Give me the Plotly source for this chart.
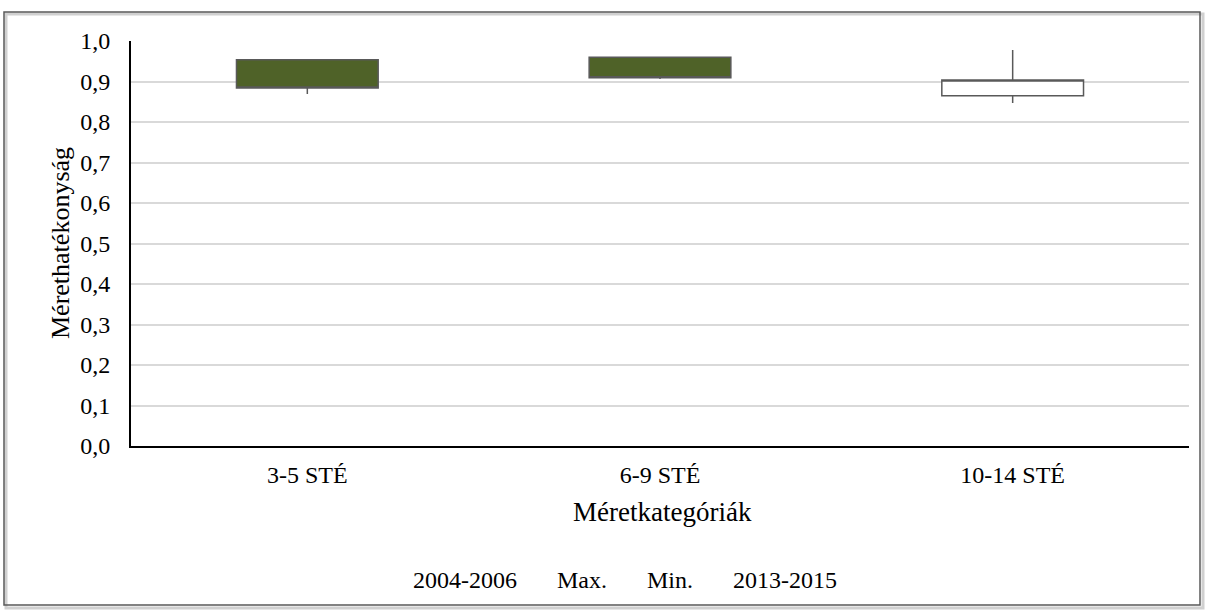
import plotly.graph_objects as go

categories = ["3-5 STÉ", "6-9 STÉ", "10-14 STÉ"]
open_2004_2006 = [0.954, 0.960, 0.865]
high_max = [0.955, 0.961, 0.978]
low_min = [0.869, 0.906, 0.847]
close_2013_2015 = [0.884, 0.909, 0.904]
legend_labels = ["2004-2006", "Max.", "Min.", "2013-2015"]

W, H = 1207, 610
L, R, T, B = 131, 18, 41, 164
pw, ph = W - L - R, H - T - B

def px(x):
    return (x - L) / pw

def py(y):
    return (H - B - y) / ph

FONT = "Liberation Serif"

fig = go.Figure()
fig.add_trace(go.Candlestick(
    x=categories,
    open=open_2004_2006, high=high_max, low=low_min, close=close_2013_2015,
    increasing=dict(fillcolor="#FFFFFF", line=dict(color="#595959", width=1.5)),
    decreasing=dict(fillcolor="#4F6228", line=dict(color="#595959", width=1.5)),
    whiskerwidth=0,
    showlegend=False,
    hoverinfo="skip",
))

fig.update_layout(
    width=W, height=H,
    margin=dict(l=L, r=R, t=T, b=B),
    paper_bgcolor="white", plot_bgcolor="white",
    separators=", ",
    boxgap=0.426,
    font=dict(family=FONT, size=24, color="#000000"),
    showlegend=False,
)
fig.update_xaxes(
    type="category",
    rangeslider_visible=False,
    showline=True, linecolor="#000000", linewidth=2,
    showgrid=False, ticks="",
    ticklabelstandoff=6,
    tickfont=dict(family=FONT, size=24),
)
fig.update_yaxes(
    range=[0, 1], dtick=0.1, tickformat=".1f",
    showline=True, linecolor="#000000", linewidth=2,
    showgrid=True, gridcolor="#D9D9D9", gridwidth=1.5,
    zeroline=False, ticks="",
    ticklabelstandoff=14,
    tickfont=dict(family=FONT, size=24),
)

# Axis titles
fig.add_annotation(x=px(662), y=py(512), xref="paper", yref="paper",
                   text="Méretkategóriák", showarrow=False,
                   xanchor="center", yanchor="middle",
                   font=dict(family=FONT, size=27, color="#000000"))
fig.add_annotation(x=px(60), y=py(243), xref="paper", yref="paper",
                   text="Mérethatékonyság", showarrow=False, textangle=-90,
                   xanchor="center", yanchor="middle",
                   font=dict(family=FONT, size=26, color="#000000"))

# Legend entries (series without markers) as plain text
legend_x = [465, 582, 670, 785]
for lbl, lx in zip(legend_labels, legend_x):
    fig.add_annotation(
        x=px(lx), y=py(580), xref="paper", yref="paper",
        text=lbl, showarrow=False, xanchor="center", yanchor="middle",
        font=dict(family=FONT, size=24, color="#000000"),
    )

# Chart frame with a soft shadow
fig.add_shape(type="rect", xref="paper", yref="paper",
              x0=px(6), x1=px(1203), y0=py(14), y1=py(608),
              line=dict(color="#D0D0D0", width=3), layer="below")
fig.add_shape(type="rect", xref="paper", yref="paper",
              x0=px(4), x1=px(1200), y0=py(12), y1=py(605),
              line=dict(color="#595959", width=1.5), layer="below")

fig.write_html("out.html")
